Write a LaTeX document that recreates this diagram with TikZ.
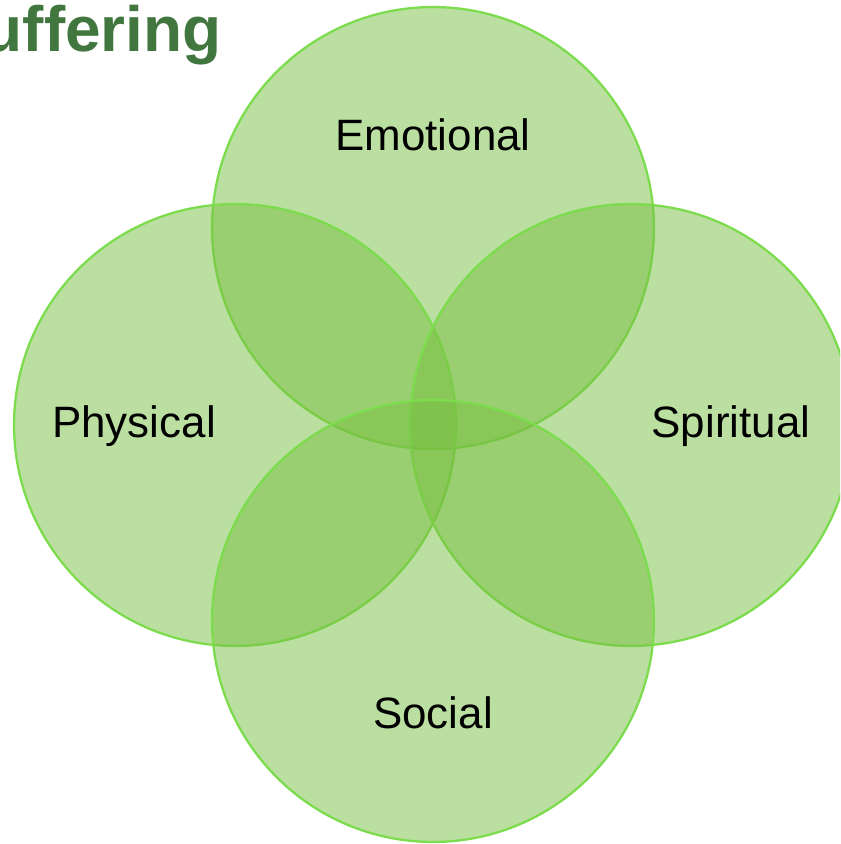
\documentclass[tikz,border=0pt]{standalone}
\usepackage{fontspec}
\setmainfont{Liberation Sans}
\definecolor{ring}{HTML}{7CDC4E}
\definecolor{leaf}{HTML}{77BF41}
\definecolor{heading}{HTML}{41763F}
\tikzset{
  area/.style={fill=leaf, fill opacity=0.5, draw=ring, draw opacity=1, line width=1.3pt},
  lab/.style={text=black, font=\fontsize{25}{30}\selectfont, inner sep=0pt, anchor=base},
  head/.style={text=heading, font=\bfseries\fontsize{36.4}{43}\selectfont, inner sep=0pt, anchor=base east},
}

\begin{document}
\begin{tikzpicture}[x=0.02cm, y=-0.02cm]
  \def\r{4.42cm}
  \useasboundingbox (0,0) rectangle (840,844);
  \clip (0,0) rectangle (840,844);

  % centres of the four circles
  \coordinate (E) at (433,228);
  \coordinate (P) at (235,425);
  \coordinate (S) at (631,425);
  \coordinate (O) at (433,621);

  \node[head] (title) at (222,52) {Suffering};

  \draw[area] (E) circle (\r);
  \draw[area] (P) circle (\r);
  \draw[area] (S) circle (\r);
  \draw[area] (O) circle (\r);

  \node[lab] (emo) at (433,151) {Emotional};
  \node[lab] (phy) at (134,437) {Physical};
  \node[lab] (spi) at (731,437) {Spiritual};
  \node[lab] (soc) at (433,728) {Social};
\end{tikzpicture}
\end{document}
